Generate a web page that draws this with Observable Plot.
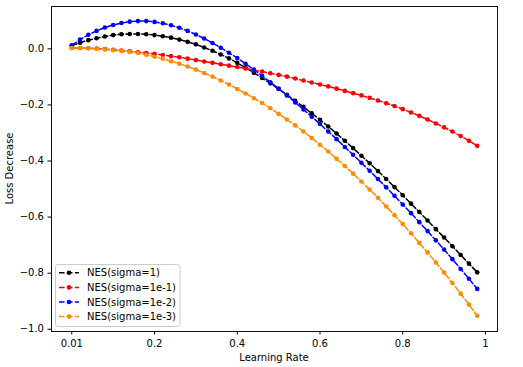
<!DOCTYPE html>
<html><head><meta charset="utf-8">
<script src="https://cdn.jsdelivr.net/npm/d3@7"></script>
<script src="https://cdn.jsdelivr.net/npm/@observablehq/plot@0.6"></script>
<style>
html,body{margin:0;padding:0;background:#fff;}
#chart{position:relative;width:523px;height:367px;}
</style></head><body><div id="chart"></div>
<script>
const learningRates = [0.00,0.02,0.04,0.06,0.08,0.10,0.12,0.14,0.16,0.18,0.20,0.22,0.24,0.26,0.28,0.30,0.32,0.34,0.36,0.38,0.40,0.42,0.44,0.46,0.48,0.50,0.52,0.54,0.56,0.58,0.60,0.62,0.64,0.66,0.68,0.70,0.72,0.74,0.76,0.78,0.80,0.82,0.84,0.86,0.88,0.90,0.92,0.94,0.96,0.98];
const lossSigma1 = [0.012,0.022,0.031,0.038,0.044,0.049,0.052,0.053,0.053,0.052,0.049,0.045,0.040,0.033,0.025,0.016,0.005,-0.007,-0.020,-0.034,-0.050,-0.067,-0.085,-0.104,-0.123,-0.143,-0.164,-0.185,-0.207,-0.230,-0.253,-0.277,-0.302,-0.328,-0.354,-0.381,-0.408,-0.436,-0.464,-0.493,-0.522,-0.552,-0.582,-0.612,-0.643,-0.673,-0.704,-0.735,-0.766,-0.797];
const lossSigma1e1 = [0.003,0.003,0.002,0.001,-0.001,-0.003,-0.006,-0.009,-0.012,-0.015,-0.018,-0.022,-0.026,-0.030,-0.035,-0.040,-0.045,-0.050,-0.055,-0.060,-0.065,-0.070,-0.076,-0.081,-0.087,-0.093,-0.099,-0.106,-0.113,-0.120,-0.127,-0.134,-0.142,-0.150,-0.158,-0.166,-0.175,-0.184,-0.194,-0.204,-0.215,-0.227,-0.239,-0.252,-0.266,-0.280,-0.295,-0.311,-0.328,-0.346];
const lossSigma1e2 = [0.012,0.033,0.050,0.064,0.076,0.085,0.092,0.097,0.099,0.099,0.096,0.091,0.084,0.075,0.064,0.051,0.037,0.021,0.004,-0.014,-0.033,-0.053,-0.074,-0.096,-0.119,-0.142,-0.166,-0.191,-0.216,-0.242,-0.268,-0.295,-0.322,-0.350,-0.378,-0.406,-0.435,-0.464,-0.494,-0.524,-0.555,-0.586,-0.618,-0.650,-0.683,-0.716,-0.750,-0.785,-0.820,-0.856];
const lossSigma1e3 = [0.003,0.003,0.002,0.000,-0.002,-0.005,-0.008,-0.011,-0.015,-0.021,-0.028,-0.035,-0.044,-0.053,-0.063,-0.074,-0.086,-0.099,-0.113,-0.127,-0.143,-0.159,-0.176,-0.193,-0.212,-0.232,-0.252,-0.273,-0.295,-0.318,-0.342,-0.366,-0.392,-0.418,-0.445,-0.473,-0.502,-0.531,-0.562,-0.593,-0.625,-0.658,-0.692,-0.726,-0.762,-0.798,-0.835,-0.873,-0.912,-0.952];
const seriesLabels = ["NES(sigma=1)","NES(sigma=1e-1)","NES(sigma=1e-2)","NES(sigma=1e-3)"];
const seriesColors = ["#000000","#ff0000","#0000ff","#ff8c00"];
const xTickValues = [0,0.2,0.4,0.6,0.8,1];
const xTickLabels = ["0.01","0.2","0.4","0.6","0.8","1"];
const yTickValues = [0,-0.2,-0.4,-0.6,-0.8,-1.0];
const xLabel = "Learning Rate";
const yLabel = "Loss Decrease";

const seriesValues = [lossSigma1, lossSigma1e1, lossSigma1e2, lossSigma1e3];
const rows = seriesValues.flatMap((vals, s) => vals.map((v, i) => ({x: learningRates[i], y: v, series: seriesLabels[s]})));

const dash = "5.55 2.4";
const marks = [];
seriesLabels.forEach((name, s) => {
  const d = rows.filter(r => r.series === name);
  marks.push(Plot.line(d, {x: "x", y: "y", stroke: seriesColors[s], strokeWidth: 1.5, strokeDasharray: dash, curve: "linear"}));
  marks.push(Plot.dot(d, {x: "x", y: "y", fill: seriesColors[s], stroke: "none", r: 2.3}));
});

const svg = Plot.plot({
  width: 523, height: 367,
  marginLeft: 51, marginRight: 26, marginTop: 6, marginBottom: 36,
  style: {fontFamily: "'DejaVu Sans', sans-serif", fontSize: "10px", color: "#000", background: "#fff", overflow: "visible"},
  x: {domain: [-0.049, 1.029]},
  y: {domain: [-1.008, 0.151]},
  marks: [
    ...marks,
    Plot.frame({stroke: "#111", strokeWidth: 1}),
    Plot.axisX({ticks: xTickValues, tickFormat: d => xTickLabels[xTickValues.indexOf(d)], tickSize: 3.5, tickPadding: 5, label: null, fontSize: 10}),
    Plot.axisY({ticks: yTickValues, tickFormat: d3.format(".1f"), tickSize: 3.5, tickPadding: 4, label: null, fontSize: 10})
  ]
});
document.getElementById("chart").appendChild(svg);

const s = d3.select(svg);
s.append("text").attr("x", 274).attr("y", 361).attr("text-anchor", "middle")
  .attr("font-size", 10).attr("fill", "#000").text(xLabel);
s.append("text").attr("transform", "translate(13,168.5) rotate(-90)").attr("text-anchor", "middle")
  .attr("font-size", 10).attr("fill", "#000").text(yLabel);

const lg = s.append("g").attr("text-anchor", "start");
lg.append("rect").attr("x", 55.5).attr("y", 264.5).attr("width", 124.5).attr("height", 62)
  .attr("rx", 2.5).attr("fill", "#fff").attr("fill-opacity", 0.8).attr("stroke", "#cccccc").attr("stroke-width", 1);
seriesLabels.forEach((name, i) => {
  const cy = 272.8 + i * 14.6;
  lg.append("line").attr("x1", 59).attr("x2", 79).attr("y1", cy).attr("y2", cy)
    .attr("stroke", seriesColors[i]).attr("stroke-width", 1.5).attr("stroke-dasharray", dash);
  lg.append("circle").attr("cx", 69).attr("cy", cy).attr("r", 2.3).attr("fill", seriesColors[i]);
  lg.append("text").attr("x", 87).attr("y", cy).attr("dy", "0.35em").attr("text-anchor", "start")
    .attr("font-size", 10).attr("fill", "#000").text(name);
});
</script></body></html>
